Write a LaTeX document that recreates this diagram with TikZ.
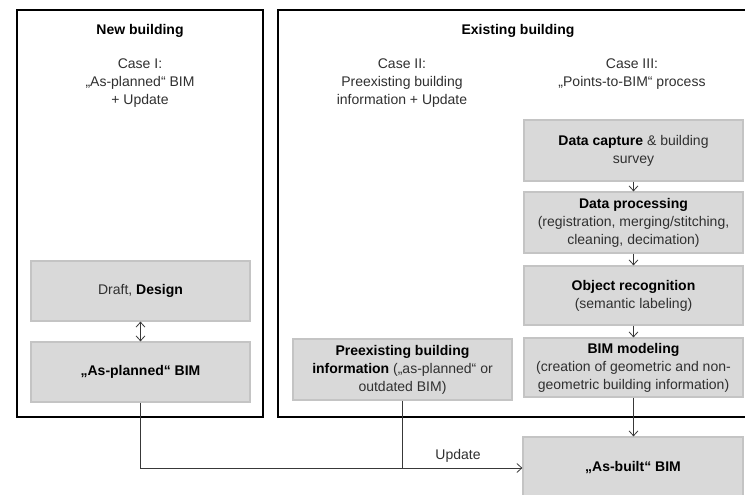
\documentclass[tikz,border=0pt]{standalone}
\usepackage{fontspec}
\setmainfont{Liberation Sans}
\usetikzlibrary{arrows.meta}
\definecolor{boxfill}{HTML}{D9D9D9}
\definecolor{boxline}{HTML}{C4C4C4}
\definecolor{txt}{HTML}{303030}
\definecolor{conn}{HTML}{383838}
\tikzset{
  graybox/.style={fill=boxfill,draw=boxline,line width=1.2pt,minimum width=219pt,align=center,inner sep=2pt,text=black},
  frame/.style={draw=black,line width=2.8pt},
  plain/.style={align=center,text=txt},
  conn/.style={draw=conn,line width=0.8pt},
  tip/.style={-{Straight Barb[length=5pt,width=9pt]}},
  dtip/.style={{Straight Barb[length=5pt,width=9pt]}-{Straight Barb[length=5pt,width=9pt]}}
}
\begin{document}
\begin{tikzpicture}[x=1pt,y=-1pt,font=\fontsize{14}{18}\selectfont]
\useasboundingbox (0,0) rectangle (745,495);
\clip (0,0) rectangle (745,495);
\fill[white] (0,0) rectangle (745,495);
% frames
\draw[frame] (17,10) rectangle (263,417);
\draw[frame] (278,10) rectangle (760,417);
% titles
\node[font=\fontsize{14}{18}\selectfont\bfseries] (tnew) at (140,31) {New building};
\node[font=\fontsize{14}{18}\selectfont\bfseries] (texist) at (518,31) {Existing building};
\node[plain] (c1) at (140,83) {Case I:\\„As-planned“ BIM\\+ Update};
\node[plain] (c2) at (402,83) {Case II:\\Preexisting building\\information + Update};
\node[plain] (c3) at (632,74) {Case III:\\„Points-to-BIM“ process};
% boxes
\node[graybox,minimum height=60pt] (draft) at (140.5,291) {{\color{txt}Draft,} \textbf{Design}};
\node[graybox,minimum height=60pt] (asp) at (140.5,372) {\textbf{„As-planned“ BIM}};
\node[graybox,minimum height=61pt] (pre) at (402.5,369.5) {\textbf{Preexisting building}\\\textbf{information} {\color{txt}(„as-planned“ or}\\{\color{txt}outdated BIM)}};
\node[graybox,minimum height=61pt] (cap) at (633.5,150.5) {\textbf{Data capture} {\color{txt}\& building}\\{\color{txt}survey}};
\node[graybox,minimum height=61pt] (proc) at (633.5,222.5) {\textbf{Data processing}\\{\color{txt}(registration, merging/stitching,}\\{\color{txt}cleaning, decimation)}};
\node[graybox,minimum height=59pt] (obj) at (633.5,295.5) {\textbf{Object recognition}\\{\color{txt}(semantic labeling)}};
\node[graybox,minimum height=59pt] (bim) at (633.5,367.5) {\textbf{BIM modeling}\\{\color{txt}(creation of geometric and non-}\\{\color{txt}geometric building information)}};
\node[graybox,minimum width=220pt,minimum height=66pt] (built) at (633,470) {};
\node[font=\fontsize{14}{18}\selectfont\bfseries] (builttxt) at (633,468) {„As-built“ BIM};
% connectors
\draw[conn,dtip] (draft.south) -- (asp.north);
\draw[conn,tip] (cap.south) -- (proc.north);
\draw[conn,tip] (proc.south) -- (obj.north);
\draw[conn,tip] (obj.south) -- (bim.north);
\draw[conn,tip] (bim.south) -- (built.north -| bim.south);
\coordinate (j) at (pre.south |- 0,468);
\draw[conn,tip] (asp.south) |- (built.west |- builttxt);
\draw[conn] (pre.south) -- (j);
\node[text=txt] (upd) at (458,456) {Update};
\end{tikzpicture}
\end{document}
